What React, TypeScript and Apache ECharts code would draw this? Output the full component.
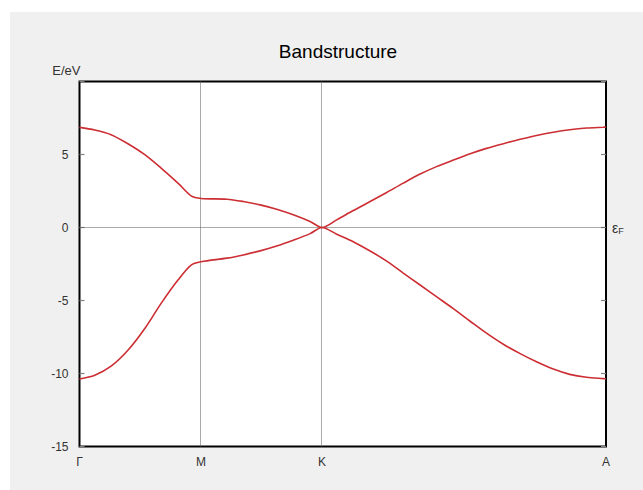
import React, { useEffect, useRef } from "react";
import * as echarts from "echarts";

// k-path positions (fraction of path length) and labels
const kTickPositions = [0, 0.231, 0.4606, 1];
const kTickLabels = ["Γ", "M", "K", "A"];

// sampled k values along path
const kPath = [
  0, 0.029, 0.06, 0.092, 0.124, 0.155, 0.187, 0.212, 0.231,
  0.28, 0.311, 0.343, 0.3745, 0.406, 0.438, 0.4606,
  0.4885, 0.52, 0.552, 0.5835, 0.615, 0.647, 0.678, 0.71, 0.742, 0.773,
  0.805, 0.837, 0.868, 0.9, 0.931, 0.963, 0.995, 1,
];

// energy values (eV)
const upperBand = [
  6.86, 6.68, 6.36, 5.74, 4.99, 4.07, 3.04, 2.17, 1.99,
  1.94, 1.78, 1.55, 1.25, 0.87, 0.41, 0,
  0.52, 1.16, 1.78, 2.4, 3.04, 3.66, 4.17, 4.62, 5.05, 5.42,
  5.74, 6.04, 6.3, 6.52, 6.69, 6.81, 6.87, 6.88,
];
const lowerBand = [
  -10.38, -10.12, -9.5, -8.41, -6.92, -5.2, -3.6, -2.57, -2.34,
  -2.1, -1.88, -1.6, -1.27, -0.87, -0.42, 0,
  -0.46, -0.97, -1.61, -2.3, -3.12, -3.94, -4.74, -5.56, -6.42, -7.24,
  -8.0, -8.64, -9.2, -9.7, -10.06, -10.26, -10.35, -10.36,
];

const yMin = -15;
const yMax = 10;
const yStep = 5;
const fermiLevel = 0;

const FONT = "Liberation Sans, Arial, sans-serif";

export default function App() {
  const ref = useRef<HTMLDivElement>(null);

  useEffect(() => {
    if (!ref.current) return;
    const chart = echarts.init(ref.current, undefined, { renderer: "svg" });
    const lineColor = "#cc2e33";
    const gridLineStyle = { color: "#555", width: 1, type: "dotted" as const };

    const yAxisBase = {
      type: "value" as const,
      min: yMin,
      max: yMax,
      interval: yStep,
      splitLine: { show: false },
      axisLine: { show: false },
      axisTick: { show: true, inside: true, length: 5, lineStyle: { color: "#808080", width: 1.2 } },
    };

    chart.setOption({
      animation: false,
      backgroundColor: "#f0f0f0",
      textStyle: { fontFamily: FONT },
      title: {
        text: "Bandstructure",
        left: 323,
        top: 25,
        textAlign: "center",
        textStyle: { fontSize: 19, fontWeight: "normal", color: "#000", fontFamily: FONT },
      },
      grid: {
        left: 69.5,
        top: 69.5,
        right: 37,
        bottom: 43.5,
        show: true,
        backgroundColor: "#ffffff",
        borderColor: "#000000",
        borderWidth: 2,
      },
      xAxis: {
        type: "value",
        min: 0,
        max: 1,
        splitLine: { show: false },
        axisLine: { show: false },
        axisTick: { show: false },
        axisLabel: {
          customValues: kTickPositions,
          formatter: (v: number) => {
            const i = kTickPositions.findIndex((p) => Math.abs(p - v) < 1e-6);
            return i >= 0 ? kTickLabels[i] : "";
          },
          margin: 9,
          fontSize: 12,
          color: "#333",
          fontFamily: FONT,
        },
      },
      yAxis: [
        {
          ...yAxisBase,
          position: "left",
          name: "E/eV",
          nameLocation: "end",
          nameGap: 5,
          nameTextStyle: { fontSize: 13, color: "#333", align: "right", padding: [0, -1, 0, 0], fontFamily: FONT },
          axisLabel: {
            margin: 11,
            fontSize: 12,
            color: "#333",
            fontFamily: FONT,
            formatter: (v: number) => (v === yMax ? "" : String(v)),
          },
        },
        {
          ...yAxisBase,
          position: "right",
          axisLabel: { show: false },
        },
      ],
      series: [
        {
          type: "line",
          data: kPath.map((k, i) => [k, upperBand[i]]),
          showSymbol: false,
          smooth: 0.3,
          lineStyle: { color: lineColor, width: 1.6 },
          z: 3,
          markLine: {
            silent: true,
            symbol: ["none", "none"],
            lineStyle: gridLineStyle,
            label: { show: false },
            z: 2,
            data: [
              { xAxis: kTickPositions[1] },
              { xAxis: kTickPositions[2] },
              {
                yAxis: fermiLevel,
                label: {
                  show: true,
                  position: "end",
                  distance: 6,
                  formatter: "{e|ε}{f|F}",
                  rich: {
                    e: { fontSize: 14, color: "#333", fontFamily: FONT },
                    f: { fontSize: 9, color: "#333", fontFamily: FONT, verticalAlign: "bottom", padding: [6, 0, 0, 0] },
                  },
                },
              },
            ],
          },
        },
        {
          type: "line",
          data: kPath.map((k, i) => [k, lowerBand[i]]),
          showSymbol: false,
          smooth: 0.3,
          lineStyle: { color: lineColor, width: 1.6 },
          z: 3,
        },
      ],
    });
    return () => chart.dispose();
  }, []);

  return (
    <div
      ref={ref}
      style={{ position: "absolute", left: 10, top: 12, width: 633, height: 478 }}
    />
  );
}
